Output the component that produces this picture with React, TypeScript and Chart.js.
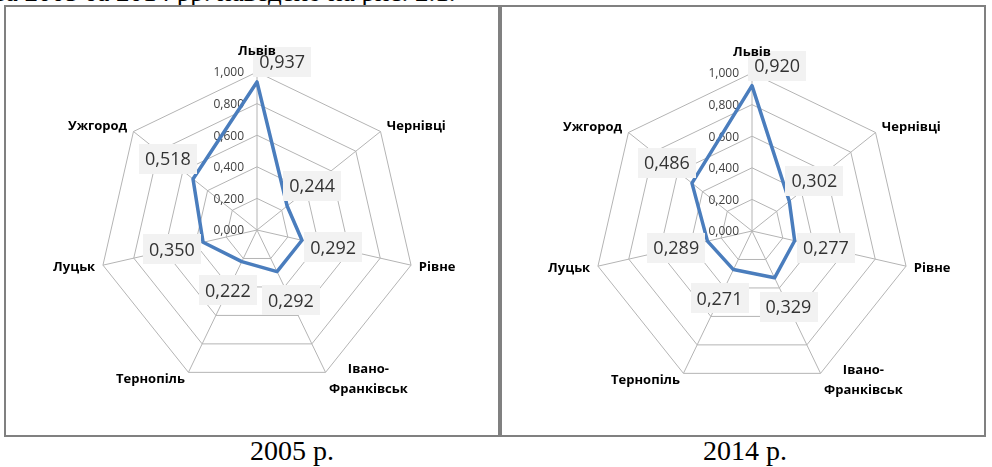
import React, { useEffect, useRef } from "react";
import { Chart, registerables } from "chart.js";

Chart.register(...registerables);

// Regions on the radar axes, clockwise from the top
const cities: (string | string[])[] = [
  "Львів",
  "Чернівці",
  "Рівне",
  ["Івано-", "Франківськ"],
  "Тернопіль",
  "Луцьк",
  "Ужгород",
];

const values2005 = [0.937, 0.244, 0.292, 0.292, 0.222, 0.35, 0.518];
const values2014 = [0.92, 0.302, 0.277, 0.329, 0.271, 0.289, 0.486];

const ringTicks = [0, 0.2, 0.4, 0.6, 0.8, 1.0];
const captions = ["2005 р.", "2014 р."];
const headingLine = "за 2005 та 2014 рр. наведено на рис. 2.1.";

const LINE_COLOR = "#4a7dbd";
const GRID_COLOR = "#b4b4b4";
const RADIUS = 158;

const fmt = (v: number) => v.toFixed(3).replace(".", ",");

type PanelProps = {
  values: number[];
  left: number;
  top: number;
  width: number;
  height: number;
  cx: number;
  cy: number;
};

function RadarPanel({ values, left, top, width, height, cx, cy }: PanelProps) {
  const ref = useRef<HTMLCanvasElement>(null);
  const cw = width - 4;
  const ch = height - 4;

  useEffect(() => {
    const canvas = ref.current;
    if (!canvas) return;

    // Fixes the radar centre and radius inside the canvas
    const geometry = {
      id: "radarGeometry",
      afterLayout(chart: any) {
        const s = chart.scales.r;
        s.xCenter = cx;
        s.yCenter = cy;
        s.drawingArea = RADIUS;
      },
    };

    // Value labels of the radial axis, left of the vertical axis line
    const axisLabels = {
      id: "axisLabels",
      beforeDatasetsDraw(chart: any) {
        const s = chart.scales.r;
        const ctx = chart.ctx;
        ctx.save();
        ctx.font = '12px "Open Sans"';
        ctx.fillStyle = "#404040";
        ctx.textAlign = "right";
        ctx.textBaseline = "middle";
        ringTicks.forEach((t) => {
          const p = s.getPointPosition(0, s.getDistanceFromCenterForValue(t));
          ctx.fillText(fmt(t), p.x - 13, p.y + 1);
        });
        ctx.restore();
      },
    };

    // Boxed value labels, then region names on top
    const annotations = {
      id: "annotations",
      afterDatasetsDraw(chart: any) {
        const s = chart.scales.r;
        const ctx = chart.ctx;
        const n = cities.length;
        ctx.save();

        ctx.font = '18px "Open Sans"';
        ctx.textAlign = "center";
        ctx.textBaseline = "middle";
        values.forEach((v, i) => {
          const pt = s.getPointPositionForValue(i, v);
          // the top label leans to the right so the region name stays readable
          const deg = i === 0 ? 52 : (i * 360) / n;
          const rad = (deg * Math.PI) / 180;
          const x = pt.x + 32 * Math.sin(rad);
          const y = pt.y - 32 * Math.cos(rad);
          const text = fmt(v);
          const w = ctx.measureText(text).width + 12;
          const h = 30;
          ctx.fillStyle = "#f2f2f2";
          ctx.fillRect(Math.round(x - w / 2), Math.round(y - h / 2), Math.round(w), h);
          ctx.fillStyle = "#333";
          ctx.fillText(text, x, y + 1);
        });

        ctx.font = 'bold 13px "Open Sans"';
        ctx.fillStyle = "#000";
        ctx.textBaseline = "middle";
        cities.forEach((name, i) => {
          const lines = Array.isArray(name) ? name : [name];
          const deg = (i * 360) / n;
          if (i === 0) {
            const p = s.getPointPosition(i, RADIUS);
            ctx.textAlign = "center";
            ctx.fillText(lines[0], p.x, p.y - 21);
            return;
          }
          const p = s.getPointPosition(i, RADIUS + 8);
          const lh = 20;
          const widths = lines.map((l) => ctx.measureText(l).width);
          const maxW = Math.max(...widths);
          const y0 = p.y - ((lines.length - 1) * lh) / 2;
          const right = deg > 180;
          ctx.textAlign = "center";
          lines.forEach((l, k) => {
            const xc = right ? p.x - maxW / 2 : p.x + maxW / 2;
            ctx.fillText(l, xc, y0 + k * lh);
          });
        });

        ctx.restore();
      },
    };

    const chart = new Chart(canvas, {
      type: "radar",
      data: {
        labels: cities as any,
        datasets: [
          {
            data: values,
            borderColor: LINE_COLOR,
            borderWidth: 3.5,
            borderJoinStyle: "round",
            pointRadius: 0,
            pointHoverRadius: 0,
            fill: false,
            tension: 0,
          } as any,
        ],
      },
      options: {
        animation: false,
        responsive: false,
        maintainAspectRatio: false,
        events: [],
        plugins: {
          legend: { display: false },
          tooltip: { enabled: false },
        },
        scales: {
          r: {
            min: 0,
            max: 1,
            ticks: { display: false, stepSize: 0.2 },
            pointLabels: { display: false },
            grid: { color: GRID_COLOR, lineWidth: 1 },
            angleLines: { color: GRID_COLOR, lineWidth: 1 },
          },
        },
      },
      plugins: [geometry, axisLabels, annotations],
    });

    return () => chart.destroy();
  }, [values, cx, cy]);

  return (
    <div
      style={{
        position: "absolute",
        left,
        top,
        width,
        height,
        border: "2px solid #808080",
        boxSizing: "border-box",
        background: "#fff",
      }}
    >
      <canvas ref={ref} width={cw} height={ch} style={{ display: "block", width: cw, height: ch }} />
    </div>
  );
}

const serif: React.CSSProperties = {
  position: "absolute",
  fontFamily: '"Liberation Serif", "Times New Roman", serif',
  fontSize: 28,
  lineHeight: "32px",
  color: "#000",
  whiteSpace: "nowrap",
};

export default function App() {
  return (
    <div
      style={{
        position: "absolute",
        left: 0,
        top: 0,
        width: 992,
        height: 467,
        overflow: "hidden",
        background: "#fff",
      }}
    >
      <div style={{ ...serif, fontSize: 27, lineHeight: "31px", left: -5, top: -23 }}>{headingLine}</div>
      <RadarPanel values={values2005} left={4} top={5} width={496} height={432} cx={251} cy={223} />
      <RadarPanel values={values2014} left={500} top={5} width={486} height={432} cx={250} cy={224} />
      <div style={{ ...serif, left: 192, width: 200, top: 435, textAlign: "center" }}>{captions[0]}</div>
      <div style={{ ...serif, left: 645, width: 200, top: 435, textAlign: "center" }}>{captions[1]}</div>
    </div>
  );
}
